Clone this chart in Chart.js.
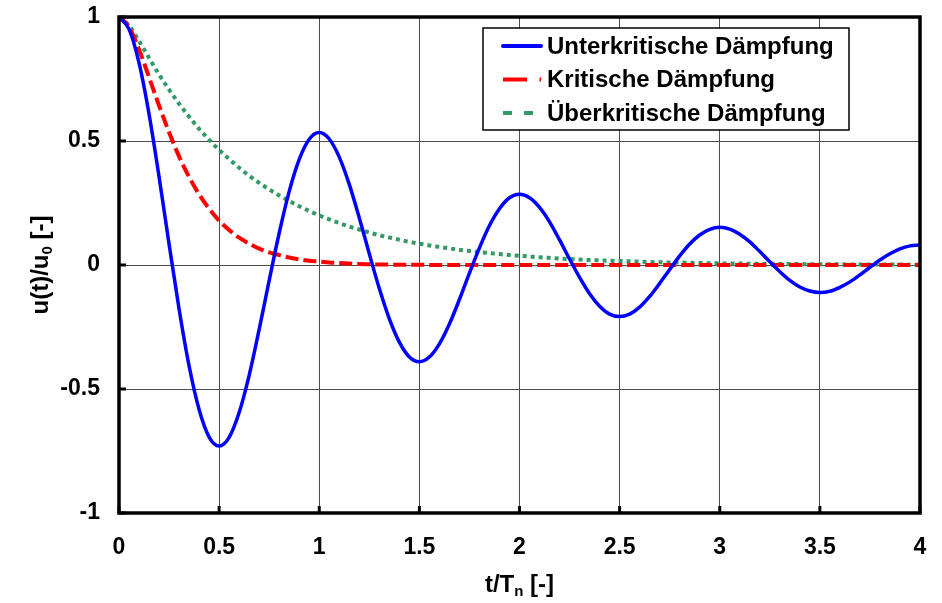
<!DOCTYPE html>
<html>
<head>
<meta charset="utf-8">
<script src="https://cdn.jsdelivr.net/npm/chart.js@4.4.0/dist/chart.umd.min.js"></script>
<style>
    body { margin: 0; background: #fff; }
    #wrap { width: 942px; height: 603px; position: relative; }
</style>
</head>
<body>
<div id="wrap"><canvas id="dampingChart"></canvas></div>
<script>
// time axis t/Tn, sampled every 0.05
const timeValues = [
    0, 0.05, 0.1, 0.15, 0.2, 0.25, 0.3, 0.35, 0.4, 0.45,
    0.5, 0.55, 0.6, 0.65, 0.7, 0.75, 0.8, 0.85, 0.9, 0.95,
    1, 1.05, 1.1, 1.15, 1.2, 1.25, 1.3, 1.35, 1.4, 1.45,
    1.5, 1.55, 1.6, 1.65, 1.7, 1.75, 1.8, 1.85, 1.9, 1.95,
    2, 2.05, 2.1, 2.15, 2.2, 2.25, 2.3, 2.35, 2.4, 2.45,
    2.5, 2.55, 2.6, 2.65, 2.7, 2.75, 2.8, 2.85, 2.9, 2.95,
    3, 3.05, 3.1, 3.15, 3.2, 3.25, 3.3, 3.35, 3.4, 3.45,
    3.5, 3.55, 3.6, 3.65, 3.7, 3.75, 3.8, 3.85, 3.9, 3.95,
    4
];

const underdamped = [
    1, 0.951, 0.815, 0.609, 0.356, 0.085, -0.177, -0.407, -0.583, -0.694,
    -0.730, -0.695, -0.595, -0.445, -0.260, -0.062, 0.129, 0.297, 0.426, 0.507,
    0.534, 0.508, 0.435, 0.325, 0.190, 0.045, -0.095, -0.217, -0.311, -0.371,
    -0.390, -0.371, -0.318, -0.238, -0.139, -0.033, 0.069, 0.159, 0.227, 0.271,
    0.285, 0.271, 0.232, 0.174, 0.101, 0.024, -0.050, -0.116, -0.166, -0.198,
    -0.208, -0.198, -0.170, -0.127, -0.074, -0.018, 0.037, 0.085, 0.121, 0.144,
    0.152, 0.145, 0.124, 0.093, 0.054, 0.013, -0.027, -0.062, -0.089, -0.105,
    -0.111, -0.106, -0.090, -0.068, -0.040, -0.009, 0.020, 0.045, 0.065, 0.077,
    0.081
];

const critical = [
    1, 0.960, 0.869, 0.757, 0.643, 0.535, 0.438, 0.355, 0.285, 0.227,
    0.179, 0.141, 0.110, 0.086, 0.066, 0.051, 0.040, 0.030, 0.023, 0.017,
    0.014, 0.010, 0.008, 0.006, 0.004, 0.003, 0.002, 0.002, 0.001, 0.001,
    0.001, 0, 0, 0, 0, 0, 0, 0, 0, 0,
    0, 0, 0, 0, 0, 0, 0, 0, 0, 0,
    0, 0, 0, 0, 0, 0, 0, 0, 0, 0,
    0, 0, 0, 0, 0, 0, 0, 0, 0, 0,
    0, 0, 0, 0, 0, 0, 0, 0, 0, 0,
    0
];

const overdamped = [
    1, 0.966, 0.903, 0.835, 0.768, 0.707, 0.650, 0.598, 0.549, 0.505,
    0.464, 0.427, 0.392, 0.360, 0.331, 0.305, 0.280, 0.258, 0.237, 0.218,
    0.200, 0.184, 0.169, 0.155, 0.143, 0.131, 0.120, 0.111, 0.102, 0.093,
    0.086, 0.079, 0.073, 0.067, 0.061, 0.056, 0.052, 0.048, 0.044, 0.040,
    0.037, 0.034, 0.031, 0.029, 0.026, 0.024, 0.022, 0.020, 0.019, 0.017,
    0.016, 0.015, 0.013, 0.012, 0.011, 0.010, 0.010, 0.009, 0.008, 0.007,
    0.007, 0.006, 0.006, 0.005, 0.005, 0.005, 0.004, 0.004, 0.004, 0.003,
    0.003, 0.003, 0.003, 0.002, 0.002, 0.002, 0.002, 0.002, 0.002, 0.001,
    0.001
];

const seriesLabels = ['Unterkritische Dämpfung', 'Kritische Dämpfung', 'Überkritische Dämpfung'];
const xTitle = ['t/T', 'n', ' [-]'];
const yTitle = ['u(t)/u', '0', ' [-]'];

const FONT = '"Liberation Sans", Arial, sans-serif';

function toPoints(values) {
    return timeValues.map((t, i) => ({x: t, y: values[i]}));
}

// legend line samples differ a bit from the plot dashes
const legendDash = [[], [24, 12.5], [9, 12]];

// draws frame, inward tick marks, axis titles with subscripts and the boxed legend
const framePlugin = {
    id: 'frame',
    afterDraw(chart) {
        const {ctx, chartArea: a, scales} = chart;
        ctx.save();

        ctx.strokeStyle = '#000';
        ctx.lineWidth = 3;
        scales.x.ticks.forEach(t => {
            const px = scales.x.getPixelForValue(t.value);
            ctx.beginPath();
            ctx.moveTo(px, a.bottom);
            ctx.lineTo(px, a.bottom - 7);
            ctx.stroke();
        });
        scales.y.ticks.forEach(t => {
            const py = scales.y.getPixelForValue(t.value);
            ctx.beginPath();
            ctx.moveTo(a.left, py);
            ctx.lineTo(a.left + 7, py);
            ctx.stroke();
        });

        ctx.lineWidth = 3.5;
        ctx.strokeRect(a.left, a.top, a.width, a.height);

        // axis titles
        const drawTitle = (parts) => {
            const big = 'bold 24px ' + FONT;
            const small = 'bold 15px ' + FONT;
            ctx.font = big;
            const w0 = ctx.measureText(parts[0]).width;
            const w2 = ctx.measureText(parts[2]).width;
            ctx.font = small;
            const w1 = ctx.measureText(parts[1]).width;
            let x = -(w0 + w1 + w2) / 2;
            ctx.fillStyle = '#000';
            ctx.textBaseline = 'alphabetic';
            ctx.textAlign = 'left';
            ctx.font = big;
            ctx.fillText(parts[0], x, 0);
            x += w0;
            ctx.font = small;
            ctx.fillText(parts[1], x, 4);
            x += w1;
            ctx.font = big;
            ctx.fillText(parts[2], x, 0);
        };

        ctx.save();
        ctx.translate((a.left + a.right) / 2, 592);
        drawTitle(xTitle);
        ctx.restore();

        ctx.save();
        ctx.translate(48, (a.top + a.bottom) / 2);
        ctx.rotate(-Math.PI / 2);
        drawTitle(yTitle);
        ctx.restore();

        // legend
        const box = {x: 483, y: 28, w: 366, h: 102};
        ctx.fillStyle = '#fff';
        ctx.fillRect(box.x, box.y, box.w, box.h);
        ctx.lineWidth = 1.5;
        ctx.strokeStyle = '#000';
        ctx.strokeRect(box.x, box.y, box.w, box.h);

        ctx.font = 'bold 24px ' + FONT;
        ctx.textBaseline = 'middle';
        ctx.textAlign = 'left';
        chart.data.datasets.forEach((ds, i) => {
            const cy = box.y + 18 + i * 33.5;
            ctx.save();
            ctx.strokeStyle = ds.borderColor;
            ctx.lineWidth = 4;
            ctx.lineCap = i === 0 ? 'round' : 'butt';
            ctx.setLineDash(legendDash[i]);
            ctx.beginPath();
            ctx.moveTo(box.x + 20, cy);
            ctx.lineTo(box.x + 58, cy);
            ctx.stroke();
            ctx.restore();
            ctx.fillStyle = '#000';
            ctx.fillText(ds.label, box.x + 64, cy + 1);
        });

        ctx.restore();
    }
};

const plainTick = v => String(v);

const ctx = document.getElementById('dampingChart').getContext('2d');
const chart = new Chart(ctx, {
    type: 'line',
    data: {
        datasets: [{
            label: seriesLabels[0],
            data: toPoints(underdamped),
            borderColor: '#0000ff',
            borderWidth: 3.5,
            pointRadius: 0,
            cubicInterpolationMode: 'monotone',
            fill: false
        }, {
            label: seriesLabels[1],
            data: toPoints(critical),
            borderColor: '#ff0000',
            borderWidth: 4,
            borderDash: [13, 5],
            pointRadius: 0,
            cubicInterpolationMode: 'monotone',
            fill: false
        }, {
            label: seriesLabels[2],
            data: toPoints(overdamped),
            borderColor: '#339966',
            borderWidth: 4,
            borderDash: [4, 4],
            pointRadius: 0,
            cubicInterpolationMode: 'monotone',
            fill: false
        }]
    },
    options: {
        responsive: true,
        maintainAspectRatio: false,
        animation: false,
        layout: { padding: { left: 0, top: 17, right: 22, bottom: 0 } },
        plugins: {
            legend: { display: false },
            tooltip: { enabled: false }
        },
        scales: {
            x: {
                type: 'linear',
                min: 0,
                max: 4,
                afterFit: scale => {
                    scale.height = 90;
                    scale.paddingLeft = 0;
                    scale.paddingRight = 0;
                },
                grid: { color: '#4d4d4d', lineWidth: 1, drawTicks: false },
                border: { display: false },
                ticks: {
                    stepSize: 0.5,
                    padding: 21,
                    color: '#000',
                    font: { family: FONT, size: 23, weight: 'bold' },
                    maxRotation: 0,
                    callback: plainTick
                }
            },
            y: {
                min: -1,
                max: 1,
                afterFit: scale => {
                    scale.width = 119;
                    scale.paddingTop = 0;
                    scale.paddingBottom = 0;
                },
                grid: { color: '#4d4d4d', lineWidth: 1, drawTicks: false },
                border: { display: false },
                ticks: {
                    stepSize: 0.5,
                    padding: 19,
                    color: '#000',
                    font: { family: FONT, size: 23, weight: 'bold' },
                    callback: plainTick
                }
            }
        }
    },
    plugins: [framePlugin]
});
</script>
</body>
</html>
